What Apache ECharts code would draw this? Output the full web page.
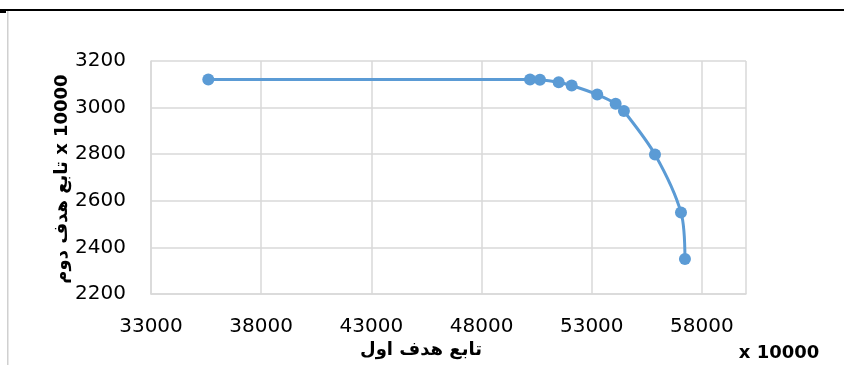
<!DOCTYPE html>
<html><head><meta charset="utf-8">
<script src="https://cdn.jsdelivr.net/npm/echarts@6/dist/echarts.min.js"></script>
<style>html,body{margin:0;padding:0;background:#fff}#c{width:844px;height:365px}</style>
</head><body><div id="c"></div>
<script>
// Data (values x 10000)
var objective1 = [35600, 50200, 50650, 51500, 52090, 53250, 54085, 54460, 55870, 57050, 57230];
var objective2 = [3121, 3121, 3120, 3109, 3095, 3056, 3017, 2985, 2799, 2550, 2350];
var xTitle = 'تابع هدف اول';
var yTitle = 'تابع هدف دوم x 10000';
var xUnit = 'x 10000';

var pts = objective1.map(function (v, i) { return [v, objective2[i]]; });
var font = 'DejaVu Sans';
function plain(v) { return String(v); }
var chart = echarts.init(document.getElementById('c'), null, {renderer: 'canvas'});
chart.setOption({
  animation: false,
  backgroundColor: '#fff',
  grid: {left: 151, right: 98, top: 61, bottom: 71, containLabel: false},
  xAxis: {
    type: 'value', min: 33000, max: 60000, interval: 5000,
    axisLine: {show: true, lineStyle: {color: '#d9d9d9', width: 1.5}},
    axisTick: {show: false},
    splitLine: {show: true, lineStyle: {color: '#d9d9d9', width: 1.5}},
    axisLabel: {color: '#000', fontFamily: font, fontSize: 20, margin: 23, showMaxLabel: false, formatter: plain}
  },
  yAxis: {
    type: 'value', min: 2200, max: 3200, interval: 200,
    axisLine: {show: true, lineStyle: {color: '#d9d9d9', width: 1.5}},
    axisTick: {show: false},
    splitLine: {show: true, lineStyle: {color: '#d9d9d9', width: 1.5}},
    axisLabel: {color: '#000', fontFamily: font, fontSize: 20, margin: 25, formatter: plain}
  },
  series: [{
    type: 'line', data: pts, smooth: 0.3,
    symbol: 'circle', symbolSize: 12,
    lineStyle: {color: '#5b9bd5', width: 3},
    itemStyle: {color: '#5b9bd5'}
  }],
  graphic: [
    {type: 'rect', shape: {x: 0, y: 9, width: 844, height: 2}, style: {fill: '#000'}},
    {type: 'rect', shape: {x: 0, y: 11, width: 6, height: 2}, style: {fill: '#000'}},
    {type: 'rect', shape: {x: 7, y: 11, width: 1.5, height: 354}, style: {fill: '#d0d0d0'}},
    {type: 'text', x: 421, y: 350, style: {text: xTitle, font: 'bold 18px "DejaVu Sans"', fill: '#000', textAlign: 'center', textVerticalAlign: 'middle'}},
    {type: 'text', x: 779, y: 353, style: {text: xUnit, font: 'bold 18px "DejaVu Sans"', fill: '#000', textAlign: 'center', textVerticalAlign: 'middle'}},
    {type: 'text', x: 62, y: 179, rotation: Math.PI / 2, style: {text: yTitle, font: 'bold 18px "DejaVu Sans"', fill: '#000', textAlign: 'center', textVerticalAlign: 'middle'}}
  ]
});
</script></body></html>
